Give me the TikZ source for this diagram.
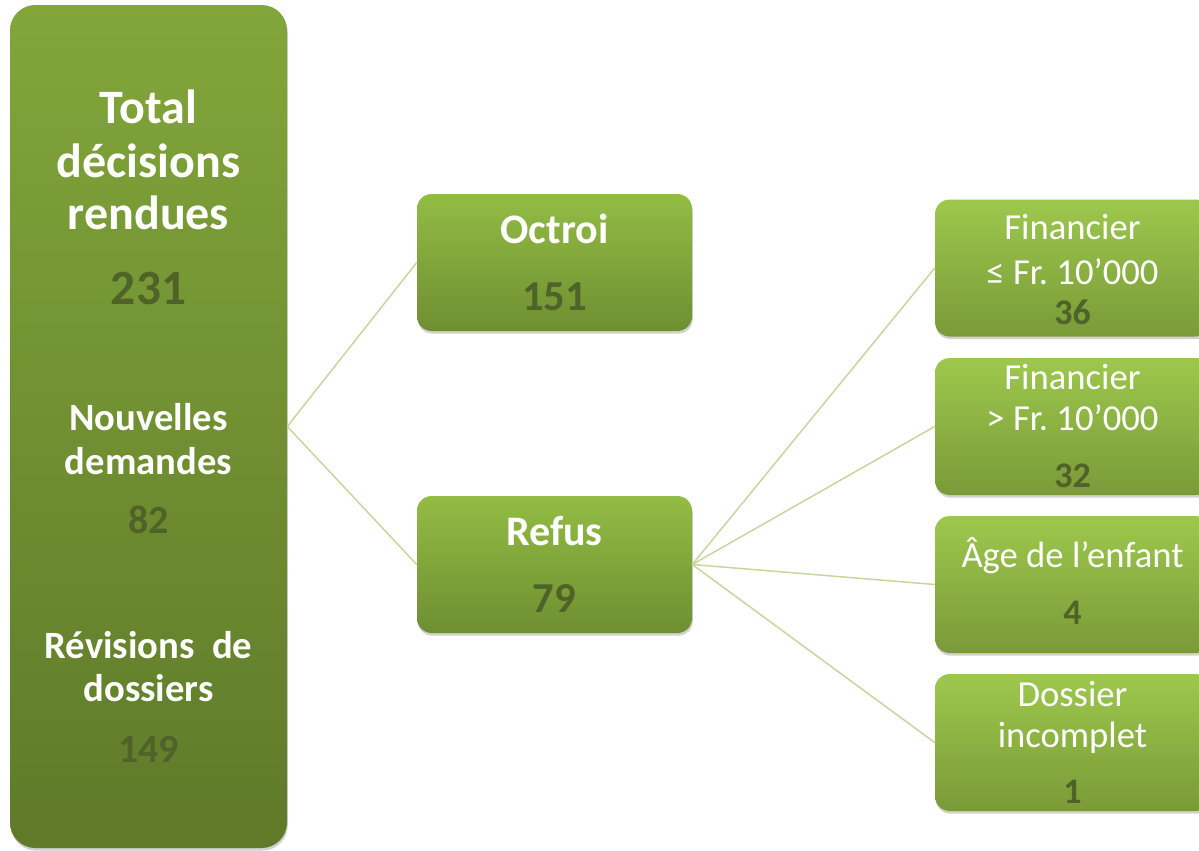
\documentclass[tikz,border=0pt]{standalone}
\usepackage{fontspec}
\setmainfont{Carlito}
\usepackage{tikz}
\usetikzlibrary{shadows}
\frenchspacing

\definecolor{numgreen}{HTML}{4F6228}
\definecolor{linkgreen}{HTML}{C3D69B}
\definecolor{bigtop}{HTML}{82A63A}
\definecolor{bigbot}{HTML}{5E7A2A}
\definecolor{midtop}{HTML}{93BC44}
\definecolor{midbot}{HTML}{6E8F32}
\definecolor{sidetop}{HTML}{9DC84D}
\definecolor{sidebot}{HTML}{7A9A38}

\tikzset{
  boxshadow/.style={drop shadow={shadow xshift=0.6pt, shadow yshift=-2pt, opacity=0.3, fill=black!60}},
  bigbox/.style={boxshadow, rounded corners=19pt, top color=bigtop, bottom color=bigbot, minimum width=207.75pt, minimum height=632.25pt, inner sep=0pt},
  midbox/.style={boxshadow, rounded corners=11pt, top color=midtop, bottom color=midbot, minimum width=206.25pt, minimum height=102.75pt, inner sep=0pt},
  sidebox/.style={boxshadow, rounded corners=11pt, top color=sidetop, bottom color=sidebot, minimum width=206.25pt, minimum height=102.75pt, inner sep=0pt},
  link/.style={draw=linkgreen, line width=1.1pt},
  title/.style={anchor=base, text=white, font=\bfseries},
  label/.style={anchor=base, text=white},
  count/.style={anchor=base, text=numgreen, font=\bfseries}
}

\begin{document}
\begin{tikzpicture}[x=0.75pt,y=0.75pt,yscale=-1,xscale=1]
 \useasboundingbox (0,0) rectangle (1199,850);
 \clip (0,0) rectangle (1199,850);

 % boxes
 \node[bigbox] (total) at (148.5,426.5) {};
 \node[midbox] (octroi) at (554.5,262.5) {};
 \node[midbox] (refus) at (554.5,564.5) {};
 \node[sidebox] (fin1) at (1072.5,268) {};
 \node[sidebox] (fin2) at (1072.5,426.5) {};
 \node[sidebox] (age) at (1072.5,584.5) {};
 \node[sidebox] (dossier) at (1072.5,742.5) {};

 % links
 \draw[link] (total.east) -- (octroi.west);
 \draw[link] (total.east) -- (refus.west);
 \draw[link] (refus.east) -- (fin1.west);
 \draw[link] (refus.east) -- (fin2.west);
 \draw[link] (refus.east) -- (age.west);
 \draw[link] (refus.east) -- (dossier.west);

 % left column
 \draw (148.5,123) node [title] (t1) {\fontsize{36}{40}\selectfont Total};
 \draw (148.5,177) node [title] (t2) {\fontsize{36}{40}\selectfont décisions};
 \draw (148.5,229) node [title] (t3) {\fontsize{36}{40}\selectfont rendues};
 \draw (148.5,304) node [count] (n1) {\fontsize{37}{40}\selectfont 231};
 \draw (148.5,430) node [title] (t4) {\fontsize{29}{34}\selectfont Nouvelles};
 \draw (148.5,474) node [title] (t5) {\fontsize{29}{34}\selectfont demandes};
 \draw (148.5,533) node [count] (n2) {\fontsize{30}{34}\selectfont 82};
 \draw (148.5,658) node [title] (t6) {\fontsize{29}{34}\selectfont Révisions~ de};
 \draw (148.5,701) node [title] (t7) {\fontsize{29}{34}\selectfont dossiers};
 \draw (148.5,762) node [count] (n3) {\fontsize{30}{34}\selectfont 149};

 % middle column
 \draw (554.5,243) node [title] (t8) {\fontsize{31.5}{36}\selectfont Octroi};
 \draw (554.5,310) node [count] (n4) {\fontsize{32}{36}\selectfont 151};
 \draw (554.5,545) node [title] (t9) {\fontsize{31.5}{36}\selectfont Refus};
 \draw (554.5,612) node [count] (n5) {\fontsize{32}{36}\selectfont 79};

 % right column
 \draw (1072.5,239) node [label] (l1) {\fontsize{27.5}{32}\selectfont Financier};
 \draw (1072.5,284) node [label] (l2) {\fontsize{27.5}{32}\selectfont ≤ Fr. 10’000};
 \draw (1072.5,324) node [count] (c1) {\fontsize{27}{32}\selectfont 36};
 \draw (1072.5,389) node [label] (l3) {\fontsize{27.5}{32}\selectfont Financier};
 \draw (1072.5,430) node [label] (l4) {\fontsize{27.5}{32}\selectfont > Fr. 10’000};
 \draw (1072.5,487) node [count] (c2) {\fontsize{27}{32}\selectfont 32};
 \draw (1072.5,567) node [label] (l5) {\fontsize{27.5}{32}\selectfont Âge de l’enfant};
 \draw (1072.5,624) node [count] (c3) {\fontsize{27}{32}\selectfont 4};
 \draw (1072.5,706) node [label] (l6) {\fontsize{27.5}{32}\selectfont Dossier};
 \draw (1072.5,747) node [label] (l7) {\fontsize{27.5}{32}\selectfont incomplet};
 \draw (1072.5,803) node [count] (c4) {\fontsize{27}{32}\selectfont 1};
\end{tikzpicture}
\end{document}
